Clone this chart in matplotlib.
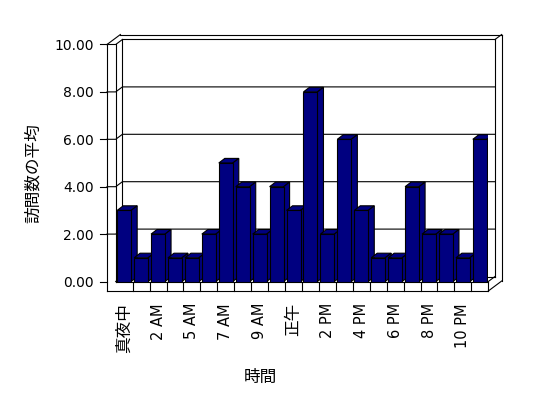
import matplotlib
matplotlib.use('Agg')
import matplotlib.pyplot as plt
from matplotlib.patches import Polygon

plt.rcParams['font.family'] = ['DejaVu Sans', 'Noto Sans CJK JP']

categories = ['真夜中', '1 AM', '2 AM', '3 AM', '5 AM', '6 AM', '7 AM', '8 AM',
              '9 AM', '10 AM', '正午', '1 PM', '2 PM', '3 PM', '4 PM', '5 PM',
              '6 PM', '7 PM', '8 PM', '9 PM', '10 PM', '11 PM']
values = [3, 1, 2, 1, 1, 2, 5, 4, 2, 4, 3, 8, 2, 6, 3, 1, 1, 4, 2, 2, 1, 6]
yticks = [0, 2, 4, 6, 8, 10]
ylabel = '訪問数の平均'
xlabel = '時間'

W, H = 548, 398
fig = plt.figure(figsize=(W / 100, H / 100), dpi=100)
xL1, xR = 115.7, 488.3
yT, yB = 44.5, 281.5
ax = fig.add_axes([xL1 / W, 1 - yB / H, (xR - xL1) / W, (yB - yT) / H])
n = len(categories)
ax.set_xlim(-0.5, n - 0.5)
ax.set_ylim(0, 10)
ax.set_frame_on(False)
ppx = (xR - xL1) / n
ppy = (yB - yT) / 10.0


def dx(px):
    return px / ppx


def dy(px):
    return px / ppy


WDX, WDY = dx(6.7), dy(5.0)
BDX, BDY = dx(6.0), dy(4.6)
LW = dx(8.7)
FT = dy(9.5)
x0, x1 = -0.5, n - 0.5
xl0 = x0 - LW
lk = dict(color='black', lw=0.8, clip_on=False, solid_capstyle='projecting', zorder=1)


def line(xs, ys):
    ax.plot(xs, ys, **lk)


# back wall inner face
line([x0 + WDX, x0 + WDX], [WDY, 10 + WDY])
line([x0 + WDX, x1 + WDX], [10 + WDY, 10 + WDY])
line([x1 + WDX, x1 + WDX], [WDY, 10 + WDY])
line([x0 + WDX, x1 + WDX], [WDY, WDY])
# gridlines and ticks
for v in yticks:
    line([xl0 - dx(7), xl0], [v, v])
for v in yticks[1:-1]:
    line([xl0, x0, x0 + WDX, x1 + WDX], [v, v, v + WDY, v + WDY])
# left wall
line([xl0, xl0], [-FT, 10])
line([x0, x0], [0, 10])
line([xl0, x0, x0 + WDX], [10, 10, 10 + WDY])
# outer silhouette
line([xl0, xl0 + 2 * WDX], [10, 10 + 2 * WDY])
line([xl0 + 2 * WDX, x1 + 2 * WDX], [10 + 2 * WDY, 10 + 2 * WDY])
line([x1 + WDX, x1 + 2 * WDX], [10 + WDY, 10 + 2 * WDY])
line([x1 + 2 * WDX, x1 + 2 * WDX], [-FT + 2 * WDY, 10 + 2 * WDY])
# floor
line([x0, x1], [0, 0])
line([xl0, x1], [-FT, -FT])
line([x1, x1], [-FT, 0])
line([x1, x1 + WDX], [0, WDY])
line([x0, x0 + WDX], [0, WDY])
line([x1, x1 + 2 * WDX], [-FT, -FT + 2 * WDY])
for k in range(1, n):
    line([x0 + k, x0 + k], [-FT, 0])

# bars
navy = '#000080'
bw = dx(14)
bars = ax.bar(range(n), values, width=bw, color=navy, edgecolor='black', lw=0.8)
for i, (b, v) in enumerate(zip(bars, values)):
    z = 2 + i * 0.01
    b.set_zorder(z + 0.005)
    l, r = i - bw / 2, i + bw / 2
    top = Polygon([(l, v), (l + BDX, v + BDY), (r + BDX, v + BDY), (r, v)],
                  closed=True, facecolor=navy, edgecolor='black', lw=0.8, zorder=z)
    side = Polygon([(r, 0), (r, v), (r + BDX, v + BDY), (r + BDX, BDY)],
                   closed=True, facecolor=navy, edgecolor='black', lw=0.8, zorder=z)
    ax.add_patch(top)
    ax.add_patch(side)

# ticks
ax.set_yticks(yticks)
ax.set_yticklabels([f'{t:.2f}' for t in yticks], fontsize=10)
ax.tick_params(axis='y', length=0, pad=15.6)
ax.set_xticks(list(range(n))[::2])
ax.set_xticklabels(categories[::2], rotation=90, fontsize=10.5)
ax.tick_params(axis='x', length=0, pad=15.5)
for t in ax.get_xticklabels():
    if not any(c.isascii() for c in t.get_text()):
        t.set_fontsize(12)

ax.set_ylabel(ylabel, fontsize=12)
ax.yaxis.set_label_coords((33 - xL1) / (xR - xL1), (yB - 173) / (yB - yT))
ax.yaxis.label.set_va('center')
ax.set_xlabel(xlabel, fontsize=12)
ax.xaxis.set_label_coords((260 - xL1) / (xR - xL1), (yB - 376.7) / (yB - yT))
ax.xaxis.label.set_va('center')

fig.savefig('out.png', dpi=100, facecolor='white')
